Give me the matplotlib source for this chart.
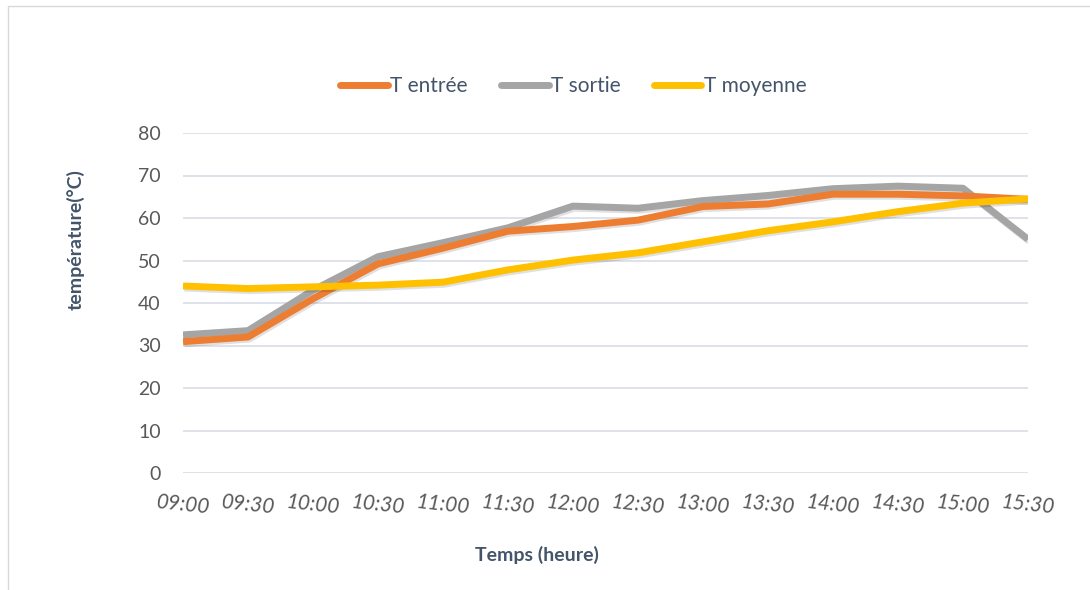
import matplotlib.pyplot as plt
import matplotlib.patheffects as pe
from matplotlib.patches import Rectangle

# temperatures relevées toutes les 30 minutes
heures = ["09:00", "09:30", "10:00", "10:30", "11:00", "11:30", "12:00",
          "12:30", "13:00", "13:30", "14:00", "14:30", "15:00", "15:30"]
t_entree = [30.9, 32.0, 41.0, 49.2, 52.9, 56.9, 58.0,
            59.5, 62.7, 63.3, 65.6, 65.6, 65.2, 64.4]
t_sortie = [32.5, 33.5, 43.0, 50.9, 54.2, 57.7, 62.8,
            62.3, 64.1, 65.3, 66.9, 67.5, 67.0, 55.0]
t_moyenne = [44.0, 43.4, 43.8, 44.2, 44.9, 47.8, 50.1,
             51.8, 54.4, 57.0, 59.1, 61.5, 63.5, 64.5]

plt.rcParams["font.family"] = ["Lato", "DejaVu Sans"]

fig = plt.figure(figsize=(10.9, 5.9), dpi=100)
ax = fig.add_axes([183 / 1090, 1 - 473 / 590, (1028 - 183) / 1090, (473 - 133) / 590])

# cadre du graphique
fig.patches.append(Rectangle((8 / 1090, -0.01), 1.02, 1 - 6 / 590 + 0.01,
                             transform=fig.transFigure, fill=False,
                             edgecolor="#d9d9d9", linewidth=1))

x = list(range(len(heures)))
ombre = [pe.SimpleLineShadow(offset=(1, -1.5), shadow_color="#000000", alpha=0.12), pe.Normal()]
ax.plot(x, t_entree, color="#ed7d31", lw=5, label="T entrée", path_effects=ombre,
        solid_capstyle="butt", zorder=3)
ax.plot(x, t_sortie, color="#a5a5a5", lw=5, label="T sortie", path_effects=ombre,
        solid_capstyle="butt", zorder=2)
ax.plot(x, t_moyenne, color="#ffc000", lw=5, label="T moyenne", path_effects=ombre,
        solid_capstyle="butt", zorder=4)

ax.set_xlim(0, len(heures) - 1)
ax.set_ylim(0, 80)
ax.set_yticks(range(0, 81, 10))
ax.set_xticks(x)
ax.set_xticklabels(heures, rotation=-6, style="italic", fontsize=15, color="#595959")
ax.tick_params(axis="y", labelsize=14, labelcolor="#595959", length=0, pad=16)
ax.tick_params(axis="x", length=0, pad=14)
ax.grid(axis="y", color="#d9dde6", linewidth=1.2)
ax.set_axisbelow(True)
for s in ax.spines.values():
    s.set_visible(False)

ax.set_ylabel("température(°C)", fontsize=14, fontweight="bold", color="#44546a")
ax.yaxis.set_label_coords(-98 / 845, (473 - 240) / 340)
ax.set_xlabel("Temps (heure)", fontsize=14, fontweight="bold", color="#44546a")
ax.xaxis.set_label_coords((537 - 183) / 845, -(546 - 473) / 340)

leg = fig.legend(loc="center", bbox_to_anchor=(573 / 1090, 1 - 86 / 590), ncol=3,
                 frameon=False, fontsize=15, handlelength=2.3, handletextpad=0.1,
                 columnspacing=1.6)
for t in leg.get_texts():
    t.set_color("#44546a")
for h in leg.get_lines():
    h.set_solid_capstyle("round")
    h.set_path_effects([])

fig.savefig("out.png", dpi=100)
